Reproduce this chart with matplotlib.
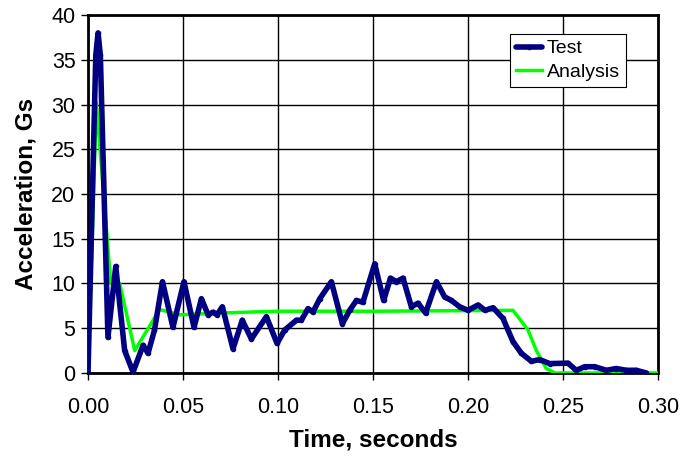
import matplotlib
matplotlib.use("Agg")
import matplotlib.pyplot as plt

plt.rcParams["font.family"] = ["Liberation Sans", "DejaVu Sans"]

# Test (measured) acceleration trace
test_t = [0.0, 0.0041, 0.0053, 0.0065, 0.0105, 0.0146, 0.0193, 0.0237, 0.029,
          0.0316, 0.035, 0.0392, 0.0447, 0.0505, 0.0558, 0.0597, 0.0632,
          0.0658, 0.0679, 0.0707, 0.0763, 0.0812, 0.086, 0.0939, 0.0995,
          0.1035, 0.1097, 0.1123, 0.1158, 0.1184, 0.122, 0.1281, 0.1339,
          0.1377, 0.1413, 0.1447, 0.1509, 0.1556, 0.1592, 0.1623, 0.1658,
          0.1702, 0.1737, 0.1777, 0.1834, 0.1877, 0.1913, 0.1956, 0.2,
          0.2053, 0.209, 0.2132, 0.2184, 0.2237, 0.2281, 0.2334, 0.2377,
          0.243, 0.2526, 0.257, 0.2614, 0.2667, 0.2728, 0.278, 0.2834,
          0.2886, 0.2939]
test_g = [0.0, 35.5, 38.0, 35.5, 4.0, 11.9, 2.5, 0.1, 3.1,
          2.2, 4.8, 10.2, 5.1, 10.2, 5.1, 8.3, 6.5,
          6.8, 6.5, 7.4, 2.7, 5.9, 3.8, 6.3, 3.3,
          4.8, 5.9, 5.9, 7.2, 6.8, 8.3, 10.2, 5.5,
          7.0, 8.1, 7.9, 12.2, 8.1, 10.6, 10.2, 10.6,
          7.4, 7.8, 6.7, 10.2, 8.5, 8.1, 7.4, 7.0,
          7.6, 7.0, 7.3, 6.1, 3.5, 2.2, 1.3, 1.5,
          1.05, 1.1, 0.3, 0.7, 0.7, 0.3, 0.5, 0.3,
          0.3, 0.0]

# Analysis (simulated) trace
ana_t = [0.0, 0.0044, 0.012, 0.0167, 0.0246, 0.0377, 0.048, 0.07, 0.1,
         0.15, 0.2237, 0.2316, 0.236, 0.2412, 0.246, 0.30]
ana_g = [0.0, 30.2, 10.0, 10.0, 2.5, 7.1, 6.5, 6.7, 6.9,
         6.9, 7.0, 4.8, 2.5, 0.5, 0.0, 0.0]

x_ticks = [0.0, 0.05, 0.10, 0.15, 0.20, 0.25, 0.30]
y_ticks = [0, 5, 10, 15, 20, 25, 30, 35, 40]

fig = plt.figure(figsize=(6.94, 4.59), dpi=100)
ax = fig.add_axes([0.1268, 0.1874, 0.8213, 0.7799])

ax.plot(ana_t, ana_g, color="#00ff00", linewidth=2.5, label="Analysis", zorder=3,
        solid_joinstyle="round")
ax.plot(test_t, test_g, color="#000080", linewidth=4, marker="o",
        markersize=3, label="Test", zorder=4, solid_joinstyle="round",
        solid_capstyle="round")

ax.set_xlim(0, 0.30)
ax.set_ylim(0, 40)
ax.set_xticks(x_ticks)
ax.set_yticks(y_ticks)
ax.set_xticklabels(["%.2f" % v for v in x_ticks])
ax.tick_params(labelsize=15.5, direction="out", length=5, width=1, pad=4)
ax.tick_params(axis="x", pad=12)
ax.grid(True, color="black", linewidth=1)
ax.set_axisbelow(True)
for side in ax.spines.values():
    side.set_linewidth(2)
    side.set_color("black")

ax.set_xlabel("Time, seconds", fontsize=17.5, fontweight="bold", labelpad=8)
ax.set_ylabel("Acceleration, Gs", fontsize=17.5, fontweight="bold", labelpad=10)

handles, labels = ax.get_legend_handles_labels()
leg = ax.legend(handles[::-1], labels[::-1], loc="upper left",
                bbox_to_anchor=(510 / 694, 1 - 34 / 459), bbox_transform=fig.transFigure,
                fontsize=14, frameon=True, fancybox=False, framealpha=1,
                borderpad=0.3, handlelength=1.35, handletextpad=0.25,
                labelspacing=0.3, borderaxespad=0)
leg.get_frame().set_edgecolor("black")
leg.get_frame().set_linewidth(0.8)

fig.savefig("out.png", dpi=100)
